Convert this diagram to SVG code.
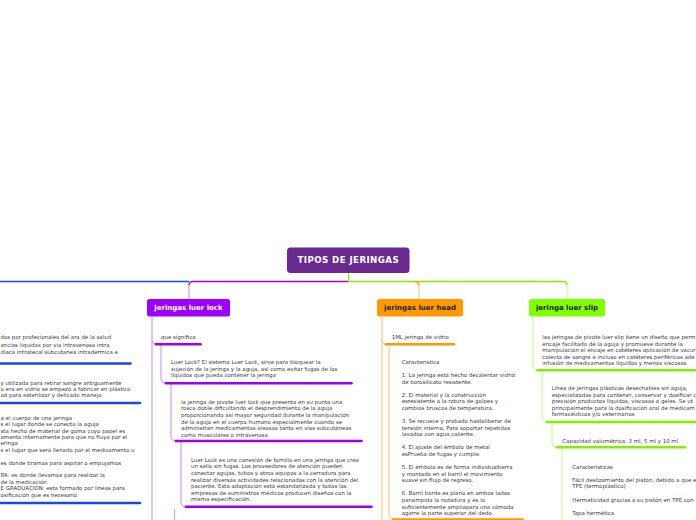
<svg xmlns="http://www.w3.org/2000/svg" width="696" height="520" viewBox="0 0 696 520">
<style>
.t{font-family:"DejaVu Sans",Verdana,sans-serif;font-size:5.45px;fill:#3a3a3a}
.bx{font-family:"DejaVu Sans",Verdana,sans-serif;font-size:7px;font-weight:bold;text-anchor:middle}
.c{fill:none;stroke-width:1.3}
.u{stroke-width:2.6;stroke-linecap:round}
.lp{stroke:#d6a3ff}.dp{stroke:#9b00f5}
.lo{stroke:#ffd08c}.do{stroke:#ff9900}
.lg{stroke:#c8ff99}.dg{stroke:#80f000}
.bl{stroke:#1a48e6}
</style>
<rect width="696" height="520" fill="#ffffff"/>
<g id="connectors">
<path class="c bl" d="M0 281.5 H189"/>
<path class="c dp" d="M348.5 281.5 H193 Q189 281.5 189 285.5"/>
<path class="c lp" d="M189 285.5 V299"/>
<path class="c dg" d="M348.5 273 V281.5 H563 Q567 281.5 567 285.5"/>
<path class="c lg" d="M567 285.5 V299"/>
<path class="c do" d="M415 281.5 Q419 281.5 419 285.5"/>
<path class="c lo" d="M419 285.5 V299"/>
<path class="c lp" d="M152 317 V520"/>
<path class="c lp" d="M152 339 Q152 344 157 344"/>
<path class="c lp" d="M161 344 V378 Q161 383 166 383"/>
<path class="c lp" d="M171 383 V436 Q171 441 176 441"/>
<path class="c lp" d="M181 441 V502 Q181 507 186 507"/>
<path class="c lp" d="M174.5 509 V520"/>
<path class="c lo" d="M382 317 V520"/>
<path class="c lo" d="M382 339 Q382 344 387 344"/>
<path class="c lo" d="M389 346 V514 Q389 519 394 519"/>
<path class="c lg" d="M533 317 V365 Q533 370 538 370"/>
<path class="c lg" d="M542 371 V417 Q542 422 547 422"/>
<path class="c lg" d="M552 423 V442 Q552 447 557 447"/>
<path class="c lg" d="M562 448 V520"/>
<line class="u bl" x1="-2" y1="363.5" x2="130.5" y2="363.5"/>
<line class="u bl" x1="-2" y1="403" x2="140" y2="403"/>
<line class="u bl" x1="-2" y1="503" x2="140" y2="503"/>
<line class="u dp" x1="156" y1="344.3" x2="200.5" y2="344.3"/>
<line class="u dp" x1="166" y1="383.3" x2="351.5" y2="383.3"/>
<line class="u dp" x1="176" y1="441" x2="361.5" y2="441"/>
<line class="u dp" x1="186" y1="506.8" x2="371.5" y2="506.8"/>
<line class="u do" x1="386" y1="344.3" x2="454" y2="344.3"/>
<line class="u do" x1="393" y1="519.5" x2="522.5" y2="519.5"/>
<line class="u dg" x1="537.5" y1="370.3" x2="700" y2="370.3"/>
<line class="u dg" x1="547" y1="422" x2="700" y2="422"/>
<line class="u dg" x1="557" y1="447.3" x2="685" y2="447.3"/>
</g>
<g id="root">
<rect x="287" y="247.5" width="122.5" height="25.5" rx="3.5" fill="#69298f"/>
<text x="348.3" y="263.3" font-family="DejaVu Sans,Verdana,sans-serif" font-size="8.7" font-weight="bold" fill="#ffffff" text-anchor="middle" letter-spacing="0.4">TIPOS DE JERINGAS</text>
</g>
<g id="node-luer-lock">
<rect x="147" y="299" width="83" height="17.5" rx="2.5" fill="#9d00ff"/>
<text class="bx" x="188.5" y="310.3" fill="#ffffff">jeringas luer lock</text>
</g>
<g id="node-luer-head">
<rect x="377" y="299" width="86" height="17.5" rx="2.5" fill="#ff9900"/>
<text class="bx" x="420" y="310.3" fill="#222222">jeringas luer head</text>
</g>
<g id="node-luer-slip">
<rect x="529" y="299" width="76" height="17.5" rx="2.5" fill="#80ff00"/>
<text class="bx" x="567" y="310.3" fill="#222222">jeringa luer slip</text>
</g>
<g id="node-left-1">
<text class="t" x="0.5" y="339.3">dos por profecionales del ara de la salud</text>
<text class="t" x="0.5" y="346.6">ancias liquidas por via intravenosa intra</text>
<text class="t" x="0.5" y="353.8">diaca intratecal subcutanea intradermica e</text>
</g>
<g id="node-left-2">
<text class="t" x="0.5" y="384.5">y utilizada para retirar sangre  antiguamente</text>
<text class="t" x="0.5" y="390.8">o era en vidrio  se empezó a fabricar en plástico</text>
<text class="t" x="0.5" y="397.2">ad para esterilizar y delicado manejo</text>
</g>
<g id="node-left-3">
<text class="t" x="0.5" y="419.8">a el cuerpo de una jeringa</text>
<text class="t" x="0.5" y="426.2">s el lugar donde se conecta la aguja</text>
<text class="t" x="0.5" y="432.6">sta hecho de material de goma cuyo papel es</text>
<text class="t" x="0.5" y="439">amento internamente para que no fluya por el</text>
<text class="t" x="0.5" y="445.4">eringa</text>
<text class="t" x="0.5" y="451.8">s el lugar que será llenado por el medicamento u</text>
<text class="t" x="0.5" y="464.6">es donde tiramos para aspirar o empujamos</text>
<text class="t" x="0.5" y="477.4">RA: es donde llevamos para realizar la</text>
<text class="t" x="0.5" y="483.8">de la medicación</text>
<text class="t" x="0.5" y="490.2">E GRADUACION: esta formado por líneas para</text>
<text class="t" x="0.5" y="496.6">osificación que es necesario</text>
</g>
<g id="node-que-significa">
<text class="t" x="161" y="339">que significa</text>
</g>
<g id="node-luer-lock-def">
<text class="t" x="171" y="364">Luer Lock? El sistema Luer Lock, sirve para bloquear la</text>
<text class="t" x="171" y="370.6">sujeción de la jeringa y la aguja, así como evitar fugas de los</text>
<text class="t" x="171" y="377.2">líquidos que pueda contener la jeringa</text>
</g>
<g id="node-pivote">
<text class="t" x="181" y="403.8">la jeringa de pivote luer lock que presenta en su punta una</text>
<text class="t" x="181" y="410.4">rosca doble dificultando el desprendimiento de la aguja</text>
<text class="t" x="181" y="417">proporcionando así mayor seguridad durante la manipulación</text>
<text class="t" x="181" y="423.6">de la aguja en el cuerpo humano especialmente cuando se</text>
<text class="t" x="181" y="430.2">administran medicamentos oleosos tanto en vías subcutáneas</text>
<text class="t" x="181" y="436.8">como musculares o intravenosa</text>
</g>
<g id="node-conexion">
<text class="t" x="191" y="461.8">Luer Lock es una conexión de tornillo en una jeringa que crea</text>
<text class="t" x="191" y="468.4">un sello sin fugas. Los proveedores de atención pueden</text>
<text class="t" x="191" y="475">conectar agujas, tubos y otros equipos a la cerradura para</text>
<text class="t" x="191" y="481.6">realizar diversas actividades relacionadas con la atención del</text>
<text class="t" x="191" y="488.2">paciente. Esta adaptación está estandarizada y todas las</text>
<text class="t" x="191" y="494.8">empresas de suministros médicos producen diseños con la</text>
<text class="t" x="191" y="501.4">misma especificación.</text>
</g>
<g id="node-vidrio">
<text class="t" x="391.7" y="339">1ML jeringa de vidrio</text>
</g>
<g id="node-caracteristica">
<text class="t" x="401.7" y="364">Caracteristica</text>
<text class="t" x="401.7" y="377.1">1. La jeringa está hecho decalentar vidrio</text>
<text class="t" x="401.7" y="383.7">de borosilicato resistente.</text>
<text class="t" x="401.7" y="396.8">2. El material y la construcción</text>
<text class="t" x="401.7" y="403.4">esresistente a la rotura de golpes y</text>
<text class="t" x="401.7" y="410">cambios bruscos de temperatura.</text>
<text class="t" x="401.7" y="423.1">3. Se recuece y probado hastaliberar de</text>
<text class="t" x="401.7" y="429.7">tensión interna, Para soportar repetidos</text>
<text class="t" x="401.7" y="436.3">lavados con agua caliente.</text>
<text class="t" x="401.7" y="449.4">4. El ajuste del émbolo de metal</text>
<text class="t" x="401.7" y="456">esPrueba de fugas y cumple.</text>
<text class="t" x="401.7" y="469.1">5. El émbolo es de forma individualtierra</text>
<text class="t" x="401.7" y="475.7">y montada en el barril el movimiento</text>
<text class="t" x="401.7" y="482.3">suave sin flujo de regreso.</text>
<text class="t" x="401.7" y="495.4">6. Barril borde es plano en ambos lados</text>
<text class="t" x="401.7" y="502">paraimpida la rodadura y es lo</text>
<text class="t" x="401.7" y="508.6">suficientemente ampliapara una cómoda</text>
<text class="t" x="401.7" y="515.2">agarre la parte superior del dedo.</text>
</g>
<g id="node-slip-def">
<text class="t" x="542.3" y="339">las jeringas de pivote luer slip tiene un diseño que perm</text>
<text class="t" x="542.3" y="345.6">encaje facilitado de la aguja y promueve durante la</text>
<text class="t" x="542.3" y="352.2">manipulación el encaje en catéteres aplicación de vacur</text>
<text class="t" x="542.3" y="358.8">colecta de sangre e incluso en catéteres periféricos ade</text>
<text class="t" x="542.3" y="365.4">infusión de medicamentos líquidos y menos viscosos</text>
</g>
<g id="node-linea">
<text class="t" x="551.7" y="390">Línea de jeringas plásticas desechables sin aguja,</text>
<text class="t" x="551.7" y="396.6">especializadas para contener, conservar y dosificar c</text>
<text class="t" x="551.7" y="403.2">precisión productos líquidos, viscosos o geles. Se ut</text>
<text class="t" x="551.7" y="409.8">principalmente para la dosificación oral de medicam</text>
<text class="t" x="551.7" y="416.4">farmacéuticos y/o veterinarios</text>
</g>
<g id="node-capacidad">
<text class="t" x="562.3" y="443">Capacidad volumétrica: 3 ml, 5 ml y 10 ml</text>
</g>
<g id="node-caracteristicas">
<text class="t" x="572.3" y="468.7">Características</text>
<text class="t" x="572.3" y="481.8">Fácil deslizamiento del pistón, debido a que e</text>
<text class="t" x="572.3" y="488.4">TPE (termoplástico)</text>
<text class="t" x="572.3" y="501.5">Hermeticidad gracias a su pistón en TPE con</text>
<text class="t" x="572.3" y="514.6">Tapa hermética</text>
</g>
</svg>
